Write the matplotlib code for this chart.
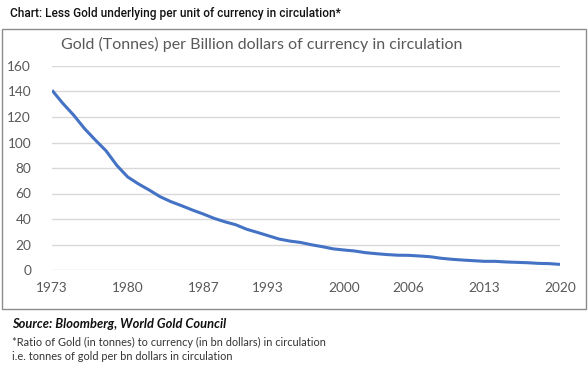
import matplotlib
matplotlib.use("Agg")
import matplotlib.pyplot as plt
from matplotlib.patches import Rectangle

years = list(range(1973, 2021))
gold_per_bn = [141, 130.7, 121.5, 111, 102, 93.5, 82, 73, 67.5, 62.7, 57.5, 53.6,
               50.4, 47, 43.9, 40.5, 37.8, 35.5, 32, 29.5, 26.9, 24.3, 22.7, 21.6,
               19.8, 18.3, 16.6, 15.7, 14.9, 13.6, 12.8, 12.1, 11.6, 11.5, 11.0, 10.4,
               9.2, 8.4, 7.8, 7.3, 6.8, 6.8, 6.3, 6.0, 5.7, 5.2, 5.0, 4.4]
xtick_years = [1973, 1980, 1987, 1993, 2000, 2006, 2013, 2020]
ytick_vals = [0, 20, 40, 60, 80, 100, 120, 140, 160]

W, H = 588, 370
fig = plt.figure(figsize=(W / 100, H / 100), dpi=100)
fig.patch.set_facecolor("white")

def fx(px):
    return px / W

def fy(py):
    return 1 - py / H

# chart border box
fig.add_artist(Rectangle((fx(2), fy(309)), fx(584), (309 - 29) / H,
                         transform=fig.transFigure, fill=False,
                         edgecolor="#8c8c8c", linewidth=1.0))

ax = fig.add_axes([fx(52), fy(270), fx(508), (270 - 66) / H])
ax.plot(years, gold_per_bn, color="#4472C4", linewidth=2.2, solid_capstyle="butt")
ax.set_xlim(1973, 2020)
ax.set_ylim(0, 160)
ax.set_xticks(xtick_years)
ax.set_yticks(ytick_vals)
ax.grid(axis="y", color="#d9d9d9", linewidth=1.0)
ax.set_axisbelow(True)
for s in ax.spines.values():
    s.set_visible(False)
ax.tick_params(length=0, labelsize=9.8, labelcolor="#595959")
ax.tick_params(axis="x", pad=9)
ax.tick_params(axis="y", pad=15)
for lbl in ax.get_xticklabels() + ax.get_yticklabels():
    lbl.set_fontfamily("Lato")

fig.text(fx(10), fy(14), "Chart: Less Gold underlying per unit of currency in circulation*",
         fontfamily="Roboto", fontsize=8.6, fontweight="medium", color="#111111",
         va="center", ha="left")
fig.text(fx(262), fy(44), "Gold (Tonnes) per Billion dollars of currency in circulation",
         fontfamily="Lato", fontsize=11.5, color="#595959", va="center", ha="center")
fig.text(fx(12), fy(324), "Source: Bloomberg, World Gold Council",
         fontfamily="Lato", fontsize=9.3, fontweight="bold", fontstyle="italic",
         color="#111111", va="center", ha="left")
fig.text(fx(12), fy(342), "*Ratio of Gold (in tonnes) to currency (in bn dollars) in circulation",
         fontfamily="Lato", fontsize=7.9, color="#333333", va="center", ha="left")
fig.text(fx(12), fy(356), "i.e. tonnes of gold per bn dollars in circulation",
         fontfamily="Lato", fontsize=7.9, color="#333333", va="center", ha="left")

fig.savefig("out.png", dpi=100)
